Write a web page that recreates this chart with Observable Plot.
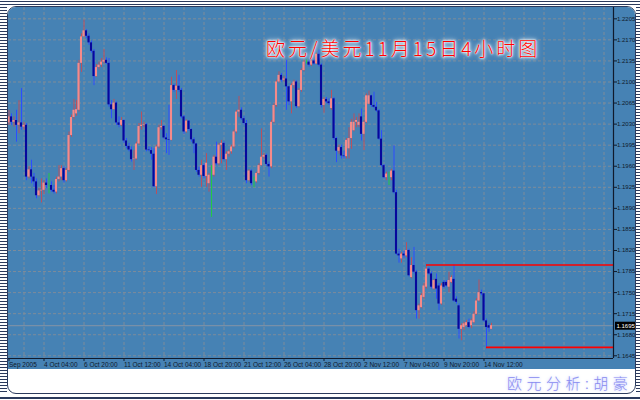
<!DOCTYPE html>
<html><head><meta charset="utf-8">
<script src="https://cdn.jsdelivr.net/npm/d3@7"></script>
<script src="https://cdn.jsdelivr.net/npm/@observablehq/plot@0.6"></script>
<style>
html,body{margin:0;padding:0;background:#fff;}
#page{position:relative;width:640px;height:400px;overflow:hidden;background:#fff;}
.hl{position:absolute;left:0;width:640px;height:1px;background:#2b3a5c;}
.stripes{position:absolute;background:repeating-linear-gradient(to bottom,#2b3a5c 0px,#2b3a5c 1px,#fff 1px,#fff 3px);}
#panel{position:absolute;left:7px;top:6px;width:629px;height:388px;box-sizing:border-box;border:1px solid #2b3a5c;border-radius:9px;background:#fff;overflow:hidden;}
#chart{position:absolute;left:0;top:0;}
#chart svg{display:block;}
#title{position:absolute;left:266px;top:34px;font-family:"Noto Sans CJK SC",sans-serif;font-size:19px;font-weight:300;letter-spacing:3px;color:#ff0000;white-space:nowrap;
  text-shadow:0 0 1px #fff,0 0 2px #fff,0 0 3px #fff,0 0 4px #fff,0 0 6px #e8f0ff;}
#footer{position:absolute;left:507px;top:372px;font-family:"Noto Sans CJK SC",sans-serif;font-size:15px;font-weight:300;letter-spacing:4.5px;color:#8a8cf0;white-space:nowrap;
  text-shadow:0 0 2px #c9d0ff,0 0 4px #d6dcff;}
</style></head>
<body>
<div id="page">
  <div class="hl" style="top:1px"></div>
  <div class="hl" style="top:4px"></div>
  <div class="hl" style="top:397px;height:2px"></div>
  <div class="stripes" style="left:0;top:7px;width:7px;height:387px"></div>
  <div class="stripes" style="left:636px;top:7px;width:4px;height:387px"></div>
  <div id="panel"><div id="chart"></div></div>
  <div id="title">欧元/美元11月15日4小时图</div>
  <div id="footer">欧元分析:胡豪</div>
</div>
<script>
// EUR/USD 4-hour candles
const open = [
1.2032,1.2042,1.2033,1.2036,1.2028,1.2032,1.2025,1.2028,1.1942,1.1954,
1.1942,1.1934,1.1911,1.1919,1.1920,1.1932,1.1928,1.1928,1.1920,1.1917,
1.1938,1.1942,1.1956,1.1936,1.1953,1.2011,1.2041,1.2047,1.2053,1.2131,
1.2175,1.2185,1.2176,1.2165,1.2151,1.2109,1.2124,1.2128,1.2133,1.2136,
1.2131,1.2062,1.2054,1.2065,1.2032,1.2028,1.2036,1.2002,1.1993,1.1987,
1.1971,1.1972,1.1997,1.2026,1.2028,1.2029,1.1987,1.1986,1.1980,1.1926,
1.1992,1.2024,1.2026,1.2007,1.2004,1.2003,1.2094,1.2086,1.2093,1.2086,
1.2042,1.2017,1.2035,1.2021,1.2004,1.1997,1.1953,1.1945,1.1961,1.1943,
1.1931,1.1945,1.1945,1.1975,1.1964,1.1995,1.1998,1.1971,1.1980,1.1984,
1.1992,1.2017,1.2050,1.2053,1.2039,1.2031,1.1936,1.1952,1.1934,1.1934,
1.1948,1.1961,1.1975,1.1978,1.1963,1.1959,1.2033,1.2061,1.2100,1.2111,
1.2103,1.2105,1.2092,1.2067,1.2094,1.2100,1.2059,1.2086,1.2119,1.2133,
1.2133,1.2128,1.2135,1.2130,1.2146,1.2128,1.2061,1.2071,1.2067,1.2056,
1.2072,1.2006,1.1985,1.1991,1.1977,1.1976,1.1989,1.2006,1.2019,1.2033,
1.2028,1.2042,1.2013,1.2033,1.2063,1.2077,1.2061,1.2058,1.2052,1.2005,
1.1961,1.1941,1.1945,1.1941,1.1952,1.1916,1.1814,1.1806,1.1814,1.1811,
1.1820,1.1775,1.1795,1.1784,1.1720,1.1725,1.1742,1.1759,1.1789,1.1781,
1.1756,1.1772,1.1761,1.1731,1.1767,1.1767,1.1759,1.1767,1.1772,1.1739,
1.1728,1.1689,1.1692,1.1695,1.1700,1.1695,1.1700,1.1714,1.1736,1.1750,
1.1748,1.1703,1.1695,1.1689
];
const high = [
1.2053,1.2047,1.2042,1.2053,1.2069,1.2089,1.2033,1.2031,1.1959,1.1970,
1.1948,1.1939,1.1923,1.1939,1.1936,1.1939,1.1948,1.1934,1.1928,1.1942,
1.1961,1.1961,1.1959,1.1956,1.2017,1.2045,1.2071,1.2069,1.2136,1.2180,
1.2203,1.2187,1.2180,1.2168,1.2154,1.2129,1.2133,1.2139,1.2154,1.2140,
1.2139,1.2069,1.2071,1.2067,1.2042,1.2041,1.2037,1.2006,1.1998,1.1992,
1.1986,1.2000,1.2031,1.2050,1.2033,1.2031,1.1992,1.1991,1.1989,1.1995,
1.2028,1.2036,1.2028,1.2014,1.2061,1.2108,1.2096,1.2119,1.2111,1.2089,
1.2044,1.2037,1.2036,1.2022,1.2007,1.1998,1.1959,1.1970,1.1964,1.1981,
1.1948,1.1961,1.1978,1.2000,1.1998,1.2003,1.2000,1.1984,1.1987,1.1995,
1.2020,1.2053,1.2076,1.2057,1.2042,1.2036,1.1954,1.1954,1.1942,1.1950,
1.1964,1.2022,1.1981,1.1980,1.1967,1.2036,1.2064,1.2103,1.2117,1.2114,
1.2109,1.2136,1.2093,1.2097,1.2103,1.2102,1.2089,1.2122,1.2136,1.2137,
1.2136,1.2137,1.2137,1.2148,1.2153,1.2130,1.2074,1.2074,1.2072,1.2086,
1.2074,1.2008,1.1995,1.1995,1.1984,1.2006,1.2024,1.2038,1.2047,1.2041,
1.2047,1.2055,1.2036,1.2080,1.2085,1.2078,1.2083,1.2066,1.2054,1.2019,
1.1963,1.1950,1.1950,1.1955,1.1994,1.1920,1.1822,1.1817,1.1819,1.1833,
1.1822,1.1808,1.1825,1.1787,1.1731,1.1748,1.1765,1.1796,1.1792,1.1784,
1.1772,1.1781,1.1765,1.1765,1.1770,1.1770,1.1784,1.1778,1.1796,1.1743,
1.1731,1.1698,1.1701,1.1704,1.1706,1.1706,1.1718,1.1740,1.1771,1.1754,
1.1749,1.1706,1.1698,1.1699
];
const low = [
1.2028,1.2028,1.2025,1.2000,1.2014,1.2020,1.2020,1.1936,1.1939,1.1931,
1.1925,1.1906,1.1909,1.1899,1.1913,1.1923,1.1914,1.1917,1.1914,1.1914,
1.1934,1.1936,1.1932,1.1934,1.1950,1.2008,1.2037,1.2043,1.2050,1.2116,
1.2174,1.2172,1.2161,1.2148,1.2094,1.2108,1.2120,1.2124,1.2130,1.2129,
1.2058,1.2039,1.2053,1.2028,1.2024,1.2026,1.1998,1.1989,1.1984,1.1967,
1.1953,1.1970,1.1995,1.2020,1.2024,1.1984,1.1984,1.1970,1.1924,1.1913,
1.1989,1.2020,1.2004,1.1981,1.1978,1.2002,1.2083,1.2071,1.2083,1.2039,
1.2013,1.2015,1.2018,1.2000,1.1981,1.1950,1.1942,1.1925,1.1939,1.1925,
1.1917,1.1875,1.1942,1.1961,1.1961,1.1964,1.1969,1.1953,1.1975,1.1980,
1.1989,1.2014,1.2041,1.2036,1.2028,1.1931,1.1934,1.1928,1.1924,1.1932,
1.1945,1.1960,1.1972,1.1960,1.1942,1.1956,1.2031,1.2058,1.2098,1.2100,
1.2100,1.2053,1.2061,1.2047,1.2089,1.2056,1.2057,1.2083,1.2117,1.2130,
1.2125,1.2126,1.2128,1.2129,1.2125,1.2057,1.2048,1.2064,1.2061,1.2053,
1.2003,1.1966,1.1980,1.1972,1.1972,1.1972,1.1972,1.1988,1.2017,1.2024,
1.2024,1.2002,1.1986,1.2031,1.2062,1.2058,1.2056,1.2050,1.2003,1.1959,
1.1939,1.1936,1.1928,1.1936,1.1914,1.1812,1.1799,1.1799,1.1806,1.1808,
1.1776,1.1773,1.1781,1.1706,1.1706,1.1723,1.1739,1.1756,1.1779,1.1756,
1.1754,1.1739,1.1720,1.1729,1.1756,1.1759,1.1750,1.1765,1.1734,1.1731,
1.1673,1.1670,1.1687,1.1693,1.1690,1.1690,1.1698,1.1712,1.1734,1.1745,
1.1701,1.1659,1.1684,1.1688
];
const close = [
1.2042,1.2033,1.2036,1.2028,1.2032,1.2025,1.2028,1.1942,1.1954,1.1942,
1.1934,1.1911,1.1919,1.1920,1.1932,1.1928,1.1928,1.1920,1.1917,1.1938,
1.1942,1.1956,1.1936,1.1953,1.2011,1.2041,1.2053,1.2054,1.2131,1.2175,
1.2185,1.2176,1.2165,1.2151,1.2109,1.2124,1.2128,1.2133,1.2136,1.2131,
1.2062,1.2054,1.2065,1.2032,1.2028,1.2036,1.2002,1.1993,1.1987,1.1971,
1.1972,1.1997,1.2026,1.2028,1.2029,1.1987,1.1986,1.1980,1.1926,1.1992,
1.2024,1.2026,1.2007,1.2004,1.2003,1.2094,1.2086,1.2093,1.2086,1.2042,
1.2017,1.2035,1.2021,1.2004,1.1997,1.1953,1.1945,1.1961,1.1943,1.1965,
1.1945,1.1945,1.1975,1.1964,1.1995,1.1998,1.1971,1.1980,1.1984,1.1992,
1.2017,1.2050,1.2053,1.2039,1.2031,1.1936,1.1952,1.1931,1.1934,1.1948,
1.1961,1.1975,1.1978,1.1963,1.1959,1.2033,1.2061,1.2100,1.2111,1.2103,
1.2105,1.2092,1.2067,1.2094,1.2100,1.2059,1.2086,1.2119,1.2133,1.2133,
1.2128,1.2135,1.2130,1.2146,1.2128,1.2061,1.2071,1.2067,1.2064,1.2072,
1.2006,1.1985,1.1991,1.1977,1.1976,1.2003,1.2006,1.2033,1.2033,1.2036,
1.2033,1.2013,1.2033,1.2077,1.2077,1.2061,1.2058,1.2052,1.2005,1.1961,
1.1941,1.1947,1.1945,1.1952,1.1916,1.1814,1.1811,1.1814,1.1811,1.1820,
1.1778,1.1795,1.1784,1.1720,1.1728,1.1745,1.1761,1.1789,1.1781,1.1759,
1.1770,1.1756,1.1731,1.1761,1.1759,1.1761,1.1770,1.1775,1.1736,1.1734,
1.1689,1.1695,1.1698,1.1700,1.1692,1.1703,1.1714,1.1736,1.1750,1.1748,
1.1703,1.1692,1.1691,1.1695
];
// horizontal levels drawn on the chart: [price, first bar]
const levelPrices = [1.1796, 1.1659];
const levelStart  = [167, 191];
// price axis ticks
const yTicks = [1.2205,1.2170,1.2135,1.2100,1.2065,1.2030,1.1995,1.1960,1.1925,1.1890,1.1855,1.1820,1.1785,1.1750,1.1715,1.1680,1.1645];
// time axis ticks (bar index) and labels
const xTickBars = [0,14,30,46,62,78,94,110,126,142,158,174,190];
const xTickLabels = ["Sep 2005","4 Oct 04:00","6 Oct 20:00","11 Oct 12:00","14 Oct 04:00","18 Oct 20:00","21 Oct 12:00","26 Oct 04:00","28 Oct 20:00","2 Nov 12:00","7 Nov 04:00","9 Nov 20:00","14 Nov 12:00"];

const n = close.length;
const bars = d3.range(n).map(i => ({i, o: open[i], h: high[i], l: low[i], c: close[i]}));
const dir = d => d.c > d.o ? "up" : d.c < d.o ? "down" : "flat";
const wickColor = {up: "#b9505e", down: "#2c4dff", flat: "#22c845"};
const bodyColor = {up: "#f58a8a", down: "#07079c", flat: "#22c845"};
const xDomain = [-0.2, 241.8];
const yDomain = [1.16405, 1.22238];
const last = close[n - 1];
const labelMap = new Map(xTickBars.map((b, k) => [b, xTickLabels[k]]));
const gridBars = d3.range(6, 242, 8);
const levels = levelPrices.map((p, k) => ({p, s: levelStart[k]}));
const axisColor = "#101a2c";
const gridStyle = {stroke: "#7d8c9b", strokeOpacity: 1, strokeDasharray: "3,2"};
const font = "Liberation Sans, Arial, sans-serif";

const chart = Plot.plot({
  width: 627, height: 362,
  marginLeft: 0, marginRight: 22, marginTop: 0, marginBottom: 11,
  style: {background: "steelblue", fontFamily: font, overflow: "hidden"},
  x: {domain: xDomain, axis: null},
  y: {domain: yDomain, axis: null},
  marks: [
    Plot.gridY(yTicks, gridStyle),
    Plot.gridX(gridBars, gridStyle),
    Plot.ruleY([last], {stroke: "#8695a5", strokeWidth: 1}),
    Plot.ruleX(bars, {x: "i", y1: "l", y2: "h", stroke: d => wickColor[dir(d)], strokeWidth: 1}),
    Plot.rect(bars, {x1: d => d.i - 0.42, x2: d => d.i + 0.42, y1: "o", y2: "c", fill: d => bodyColor[dir(d)]}),
    Plot.ruleY(levels, {y: "p", x1: "s", x2: xDomain[1], stroke: "#ff0000", strokeWidth: 1.6}),
    Plot.ruleY([yDomain[0]], {stroke: axisColor, strokeWidth: 1.2}),
    Plot.ruleX([xDomain[1]], {stroke: axisColor, strokeWidth: 1.2}),
    Plot.axisY(yTicks, {anchor: "right", tickSize: 3, tickPadding: 0.5, tickFormat: d => d.toFixed(4),
      fill: axisColor, stroke: axisColor, fontSize: 6, fontFamily: font}),
    Plot.axisX(xTickBars, {anchor: "bottom", tickSize: 3, tickPadding: 1, tickFormat: d => labelMap.get(d),
      textAnchor: "start", fill: axisColor, stroke: axisColor, fontSize: 6.5, fontFamily: font}),
    Plot.ruleY([last], {x1: xDomain[1] + 0.8, x2: xDomain[1] + 10, stroke: "black", strokeWidth: 8}),
    Plot.text([last], {y: d => d, x: xDomain[1], dx: 3, textAnchor: "start", fill: "white",
      text: d => d.toFixed(4), fontSize: 6, fontFamily: font})
  ]
});
document.getElementById("chart").appendChild(chart);
</script>
</body></html>
